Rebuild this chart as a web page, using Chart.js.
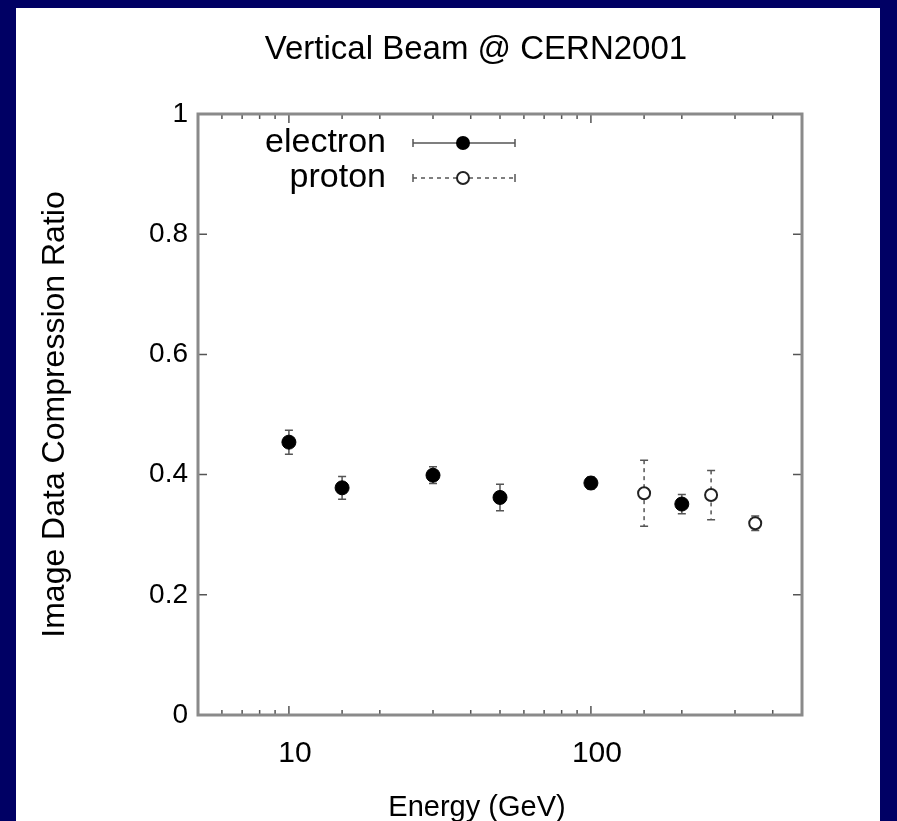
<!DOCTYPE html>
<html>
<head>
<meta charset="utf-8">
<script src="https://cdn.jsdelivr.net/npm/chart.js@4/dist/chart.umd.min.js"></script>
<style>
  html, body { margin: 0; padding: 0; background: #000064; overflow: hidden; }
  #box { position: absolute; left: 16px; top: 8px; width: 864px; height: 813px; background: #fff; }
</style>
</head>
<body>
<div id="box"><canvas id="beamChart"></canvas></div>
<script>
// data
const chartTitle = 'Vertical Beam @ CERN2001';
const xTitle = 'Energy (GeV)';
const energyElectron = [10, 15, 30, 50, 100, 200];
const ratioElectron = [0.454, 0.378, 0.399, 0.362, 0.386, 0.351];
const errElectron = [0.02, 0.019, 0.014, 0.022, 0.01, 0.016];
const energyProton = [150, 250, 350];
const ratioProton = [0.369, 0.366, 0.319];
const errProton = [0.055, 0.041, 0.012];
const xLabelValues = [10, 100];
const seriesNames = ['electron', 'proton'];

const FONT = 'Liberation Sans, Arial, sans-serif';
const frameColor = '#8a8a8a';

function toPoints(xs, ys) {
    return xs.map((x, i) => ({ x: x, y: ys[i] }));
}

// frame + inward ticks (gnuplot style)
const framePlugin = {
    id: 'frame',
    afterDatasetsDraw(chart) {
        const { ctx, chartArea: a, scales } = chart;
        ctx.save();
        ctx.strokeStyle = '#555';
        ctx.lineWidth = 1.5;
        scales.x.ticks.forEach(t => {
            const px = scales.x.getPixelForValue(t.value);
            const lg = Math.log10(t.value);
            const len = Math.abs(lg - Math.round(lg)) < 1e-6 ? 9 : 5;
            ctx.beginPath();
            ctx.moveTo(px, a.bottom); ctx.lineTo(px, a.bottom - len);
            ctx.moveTo(px, a.top); ctx.lineTo(px, a.top + len);
            ctx.stroke();
        });
        scales.y.ticks.forEach(t => {
            const py = scales.y.getPixelForValue(t.value);
            ctx.beginPath();
            ctx.moveTo(a.left, py); ctx.lineTo(a.left + 9, py);
            ctx.moveTo(a.right, py); ctx.lineTo(a.right - 9, py);
            ctx.stroke();
        });
        ctx.strokeStyle = frameColor;
        ctx.lineWidth = 3;
        ctx.strokeRect(a.left, a.top, a.right - a.left, a.bottom - a.top);
        ctx.restore();
    }
};

// vertical error bars
const errorBarPlugin = {
    id: 'errorBars',
    beforeDatasetsDraw(chart) {
        const { ctx, scales } = chart;
        const sets = [
            { xs: energyElectron, ys: ratioElectron, es: errElectron, dash: [] },
            { xs: energyProton, ys: ratioProton, es: errProton, dash: [4, 4] }
        ];
        ctx.save();
        ctx.strokeStyle = '#555';
        ctx.lineWidth = 1.5;
        sets.forEach(s => {
            ctx.setLineDash(s.dash);
            s.xs.forEach((x, i) => {
                const px = scales.x.getPixelForValue(x);
                const y1 = scales.y.getPixelForValue(s.ys[i] + s.es[i]);
                const y2 = scales.y.getPixelForValue(s.ys[i] - s.es[i]);
                ctx.beginPath();
                ctx.moveTo(px, y1); ctx.lineTo(px, y2);
                ctx.stroke();
                ctx.setLineDash([]);
                ctx.beginPath();
                ctx.moveTo(px - 4, y1); ctx.lineTo(px + 4, y1);
                ctx.moveTo(px - 4, y2); ctx.lineTo(px + 4, y2);
                ctx.stroke();
                ctx.setLineDash(s.dash);
            });
        });
        ctx.restore();
    }
};

// title, x title and key
const textPlugin = {
    id: 'texts',
    afterDraw(chart) {
        const ctx = chart.ctx;
        ctx.save();
        ctx.fillStyle = '#000';
        ctx.textBaseline = 'middle';
        ctx.textAlign = 'center';
        ctx.font = '33px ' + FONT;
        ctx.fillText(chartTitle, 460, 42);
        ctx.font = '29px ' + FONT;
        ctx.fillText(xTitle, 461, 800);

        ctx.font = '34px ' + FONT;
        ctx.textAlign = 'right';
        const rows = [135, 170];
        seriesNames.forEach((name, i) => {
            const y = rows[i];
            ctx.fillText(name, 370, y);
            ctx.strokeStyle = '#555';
            ctx.lineWidth = 1.5;
            ctx.setLineDash(i === 0 ? [] : [4, 4]);
            ctx.beginPath();
            ctx.moveTo(397, y); ctx.lineTo(499, y);
            ctx.stroke();
            ctx.setLineDash([]);
            ctx.beginPath();
            ctx.moveTo(397, y - 4); ctx.lineTo(397, y + 4);
            ctx.moveTo(499, y - 4); ctx.lineTo(499, y + 4);
            ctx.stroke();
            ctx.beginPath();
            ctx.arc(447, y, i === 0 ? 7 : 6, 0, Math.PI * 2);
            if (i === 0) {
                ctx.fillStyle = '#000';
                ctx.fill();
            } else {
                ctx.fillStyle = '#fff';
                ctx.fill();
                ctx.strokeStyle = '#222';
                ctx.lineWidth = 2;
                ctx.stroke();
                ctx.fillStyle = '#000';
            }
        });
        ctx.restore();
    }
};

const ctx = document.getElementById('beamChart').getContext('2d');
const beamChart = new Chart(ctx, {
    type: 'scatter',
    data: {
        datasets: [{
            label: seriesNames[0],
            data: toPoints(energyElectron, ratioElectron),
            backgroundColor: '#000',
            borderColor: '#000',
            pointRadius: 7,
            pointHoverRadius: 7
        }, {
            label: seriesNames[1],
            data: toPoints(energyProton, ratioProton),
            backgroundColor: '#fff',
            borderColor: '#222',
            borderWidth: 2,
            pointRadius: 6,
            pointHoverRadius: 6
        }]
    },
    options: {
        responsive: true,
        maintainAspectRatio: false,
        animation: false,
        layout: { padding: { top: 106, right: 78, left: 0, bottom: 0 } },
        plugins: {
            legend: { display: false },
            tooltip: { enabled: false }
        },
        scales: {
            x: {
                type: 'logarithmic',
                min: 5,
                max: 500,
                grid: { display: false, drawTicks: false },
                border: { display: false },
                ticks: {
                    autoSkip: false,
                    maxRotation: 0,
                    padding: 21,
                    labelOffset: 6,
                    color: '#000',
                    font: { family: FONT, size: 30 },
                    callback: (v) => xLabelValues.includes(v) ? String(v) : ''
                },
                afterFit: (scale) => { scale.height = 106; }
            },
            y: {
                min: 0,
                max: 1,
                grid: { display: false, drawTicks: false },
                border: { display: false },
                ticks: {
                    stepSize: 0.2,
                    padding: 10,
                    color: '#000',
                    font: { family: FONT, size: 28 },
                    callback: (v) => String(Math.round(v * 10) / 10)
                },
                title: {
                    display: true,
                    text: 'Image Data Compression Ratio',
                    color: '#000',
                    font: { family: FONT, size: 32 },
                    padding: { top: 20, bottom: 0 }
                },
                afterFit: (scale) => { scale.width = 182; }
            }
        }
    },
    plugins: [errorBarPlugin, framePlugin, textPlugin]
});
</script>
</body>
</html>
